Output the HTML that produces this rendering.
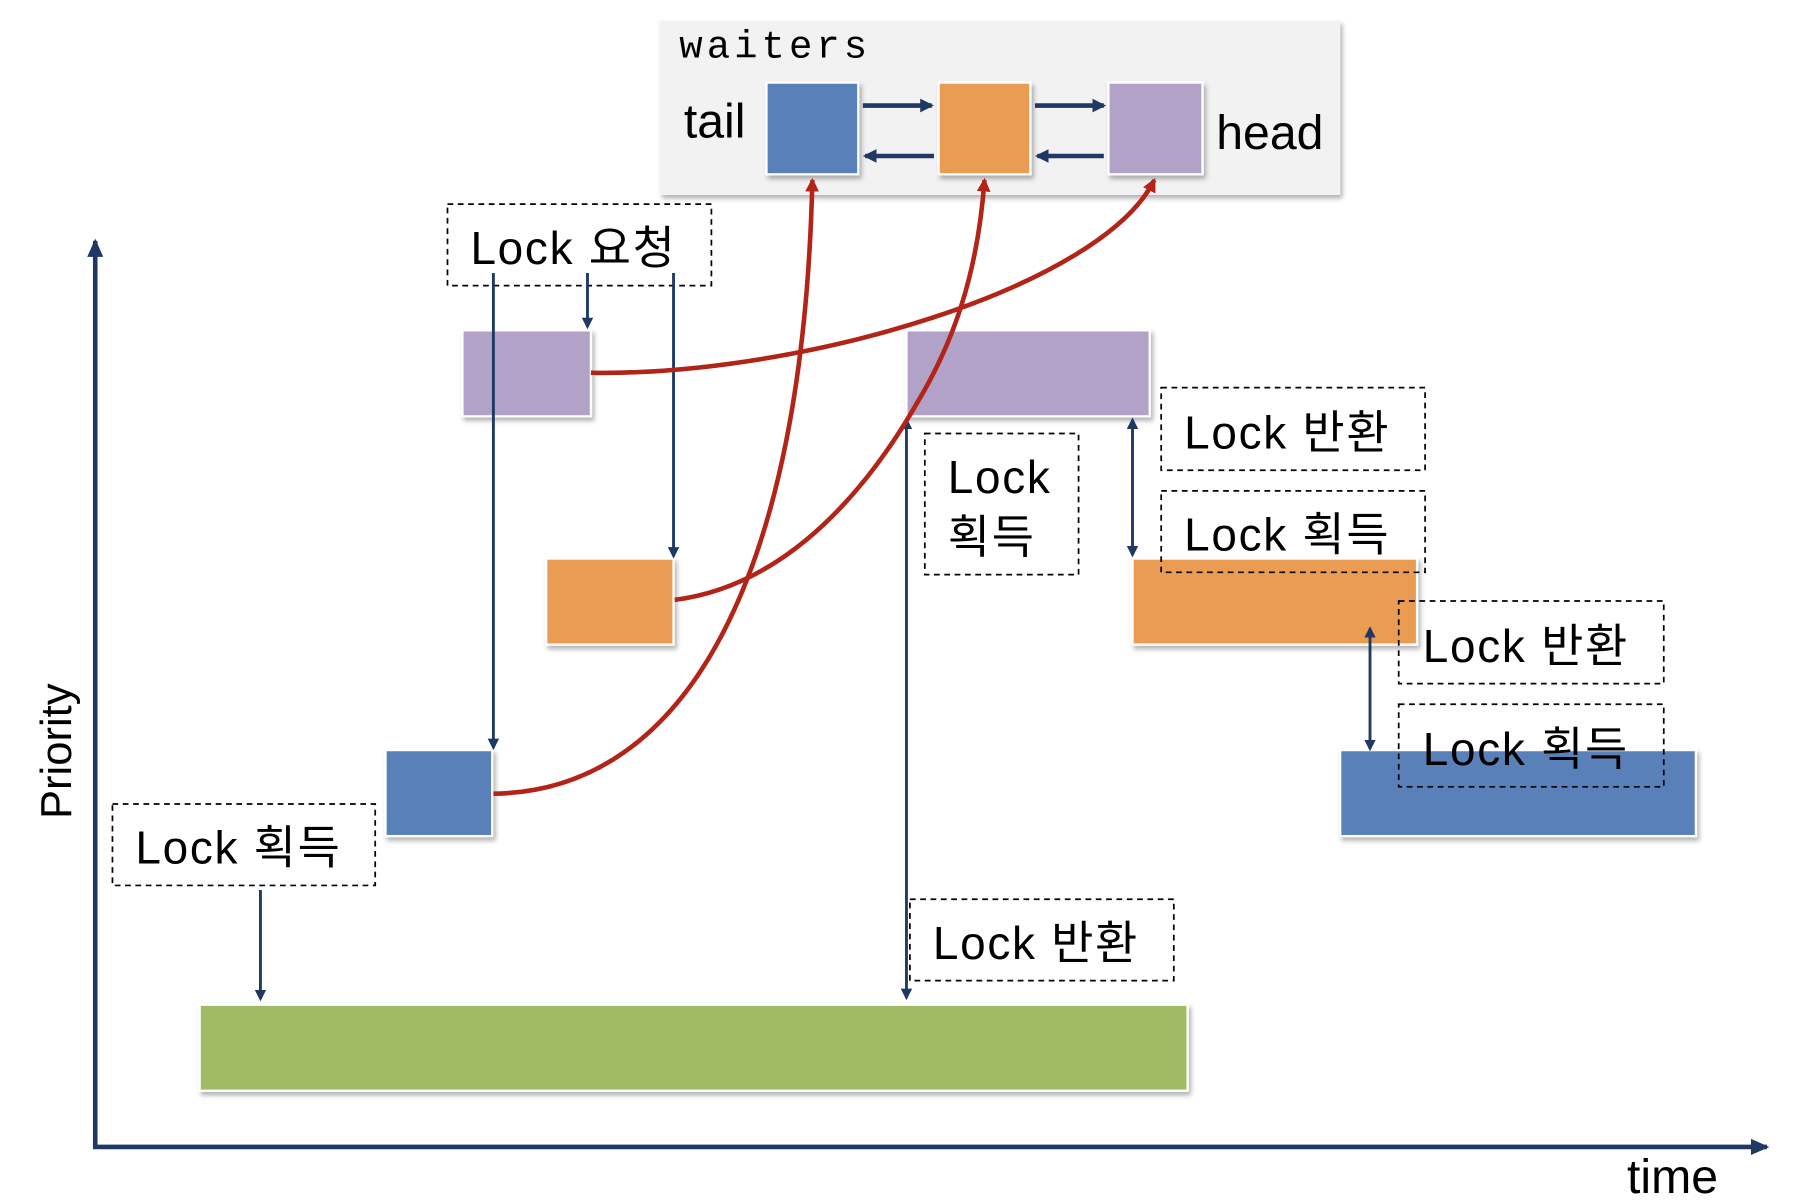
<!DOCTYPE html>
<html><head><meta charset="utf-8"><style>
html,body{margin:0;padding:0;background:#fff}
svg{display:block}
text{font-family:"Liberation Sans","Noto Sans CJK KR",sans-serif;fill:#000}
</style></head><body>
<svg width="1798" height="1202" viewBox="0 0 1567 1048" preserveAspectRatio="none" xmlns="http://www.w3.org/2000/svg">
<defs>
<marker id="na" markerWidth="10" markerHeight="10" refX="8" refY="5" orient="auto-start-reverse" markerUnits="userSpaceOnUse"><path d="M0,0 L10,5 L0,10 z" fill="#1f3864"/></marker>
<marker id="nab" markerWidth="12" markerHeight="12" refX="10" refY="6" orient="auto" markerUnits="userSpaceOnUse"><path d="M0,0 L12,6 L0,12 z" fill="#1f3864"/></marker>
<marker id="ra" markerWidth="12" markerHeight="12" refX="10" refY="6" orient="auto" markerUnits="userSpaceOnUse"><path d="M0,0 L12,6 L0,12 z" fill="#b22418"/></marker>
<marker id="ax" markerWidth="16" markerHeight="16" refX="14" refY="8" orient="auto" markerUnits="userSpaceOnUse"><path d="M0,1 L16,8 L0,15 z" fill="#1f3864"/></marker>
<filter id="sh" x="-10%" y="-10%" width="130%" height="140%"><feDropShadow dx="2" dy="3" stdDeviation="2" flood-color="#000" flood-opacity="0.3"/></filter>
</defs>
<rect x="575" y="18" width="593" height="152" fill="#f2f2f2" filter="url(#sh)"/>
<text x="592" y="50" style="font-family:'Liberation Mono',monospace" font-size="34" letter-spacing="3.5">waiters</text>
<text x="596" y="120" font-size="42">tail</text>
<text x="1060" y="130" font-size="42">head</text>
<g stroke="#fff" stroke-width="2" filter="url(#sh)">
<rect x="668" y="72" width="80" height="80" fill="#5a80ba"/>
<rect x="818" y="72" width="80" height="80" fill="#eb9c52"/>
<rect x="966" y="72" width="82" height="80" fill="#b2a2c7"/>
</g>
<g stroke="#1f3864" stroke-width="4">
<line x1="752" y1="92" x2="812" y2="92" marker-end="url(#nab)"/>
<line x1="814" y1="136" x2="754" y2="136" marker-end="url(#nab)"/>
<line x1="902" y1="92" x2="962" y2="92" marker-end="url(#nab)"/>
<line x1="962" y1="136" x2="904" y2="136" marker-end="url(#nab)"/>
</g>
<line x1="83" y1="1000" x2="83" y2="210" stroke="#1f3864" stroke-width="4" marker-end="url(#ax)"/>
<line x1="81" y1="1000" x2="1540" y2="1000" stroke="#1f3864" stroke-width="4" marker-end="url(#ax)"/>
<text transform="translate(62,655) rotate(-90)" text-anchor="middle" font-size="38">Priority</text>
<text x="1418" y="1040" font-size="42">time</text>
<g stroke="#fff" stroke-width="2" filter="url(#sh)">
<rect x="403" y="288" width="112" height="75" fill="#b2a2c7"/>
<rect x="790" y="288" width="212" height="75" fill="#b2a2c7"/>
<rect x="476" y="487" width="111" height="75" fill="#eb9c52"/>
<rect x="987" y="487" width="248" height="75" fill="#eb9c52"/>
<rect x="336" y="654" width="93" height="75" fill="#5a80ba"/>
<rect x="1168" y="654" width="310" height="75" fill="#5a80ba"/>
<rect x="174" y="876" width="861" height="75" fill="#a1bb65"/>
</g>
<g fill="none" stroke="#000" stroke-width="1.5" stroke-dasharray="5,4">
<rect x="390" y="178" width="230" height="71"/>
<rect x="98" y="701" width="229" height="71"/>
<rect x="806" y="378" width="134" height="123"/>
<rect x="1012" y="338" width="230" height="72"/>
<rect x="1012" y="428" width="230" height="71"/>
<rect x="1219" y="524" width="231" height="72"/>
<rect x="1219" y="614" width="231" height="72"/>
<rect x="793" y="784" width="230" height="71"/>
</g>
<g font-size="40" letter-spacing="1.5">
<text x="410" y="230">Lock 요청</text>
<text x="118" y="753">Lock 획득</text>
<text x="826" y="430">Lock</text>
<text x="826" y="482">획득</text>
<text x="1032" y="391">Lock 반환</text>
<text x="1032" y="480">Lock 획득</text>
<text x="1240" y="577">Lock 반환</text>
<text x="1240" y="667">Lock 획득</text>
<text x="813" y="836">Lock 반환</text>
</g>
<g stroke="#1f3864" stroke-width="2.5" fill="none">
<line x1="430" y1="238" x2="430" y2="652" marker-end="url(#na)"/>
<line x1="512" y1="238" x2="512" y2="285" marker-end="url(#na)"/>
<line x1="587" y1="238" x2="587" y2="485" marker-end="url(#na)"/>
<line x1="227" y1="776" x2="227" y2="871" marker-end="url(#na)"/>
<line x1="790" y1="366" x2="790" y2="870" marker-start="url(#na)" marker-end="url(#na)"/>
<line x1="987" y1="366" x2="987" y2="484" marker-start="url(#na)" marker-end="url(#na)"/>
<line x1="1194" y1="548" x2="1194" y2="653" marker-start="url(#na)" marker-end="url(#na)"/>
</g>
<g stroke="#b22418" stroke-width="4" fill="none">
<path d="M430,692 C600,690 700,500 708,157" marker-end="url(#ra)"/>
<path d="M588,523 C690,510 760,420 800,350 C830,300 852,240 858,157" marker-end="url(#ra)"/>
<path d="M515,325 C700,328 960,250 1006,157" marker-end="url(#ra)"/>
</g>
</svg>
</body></html>
